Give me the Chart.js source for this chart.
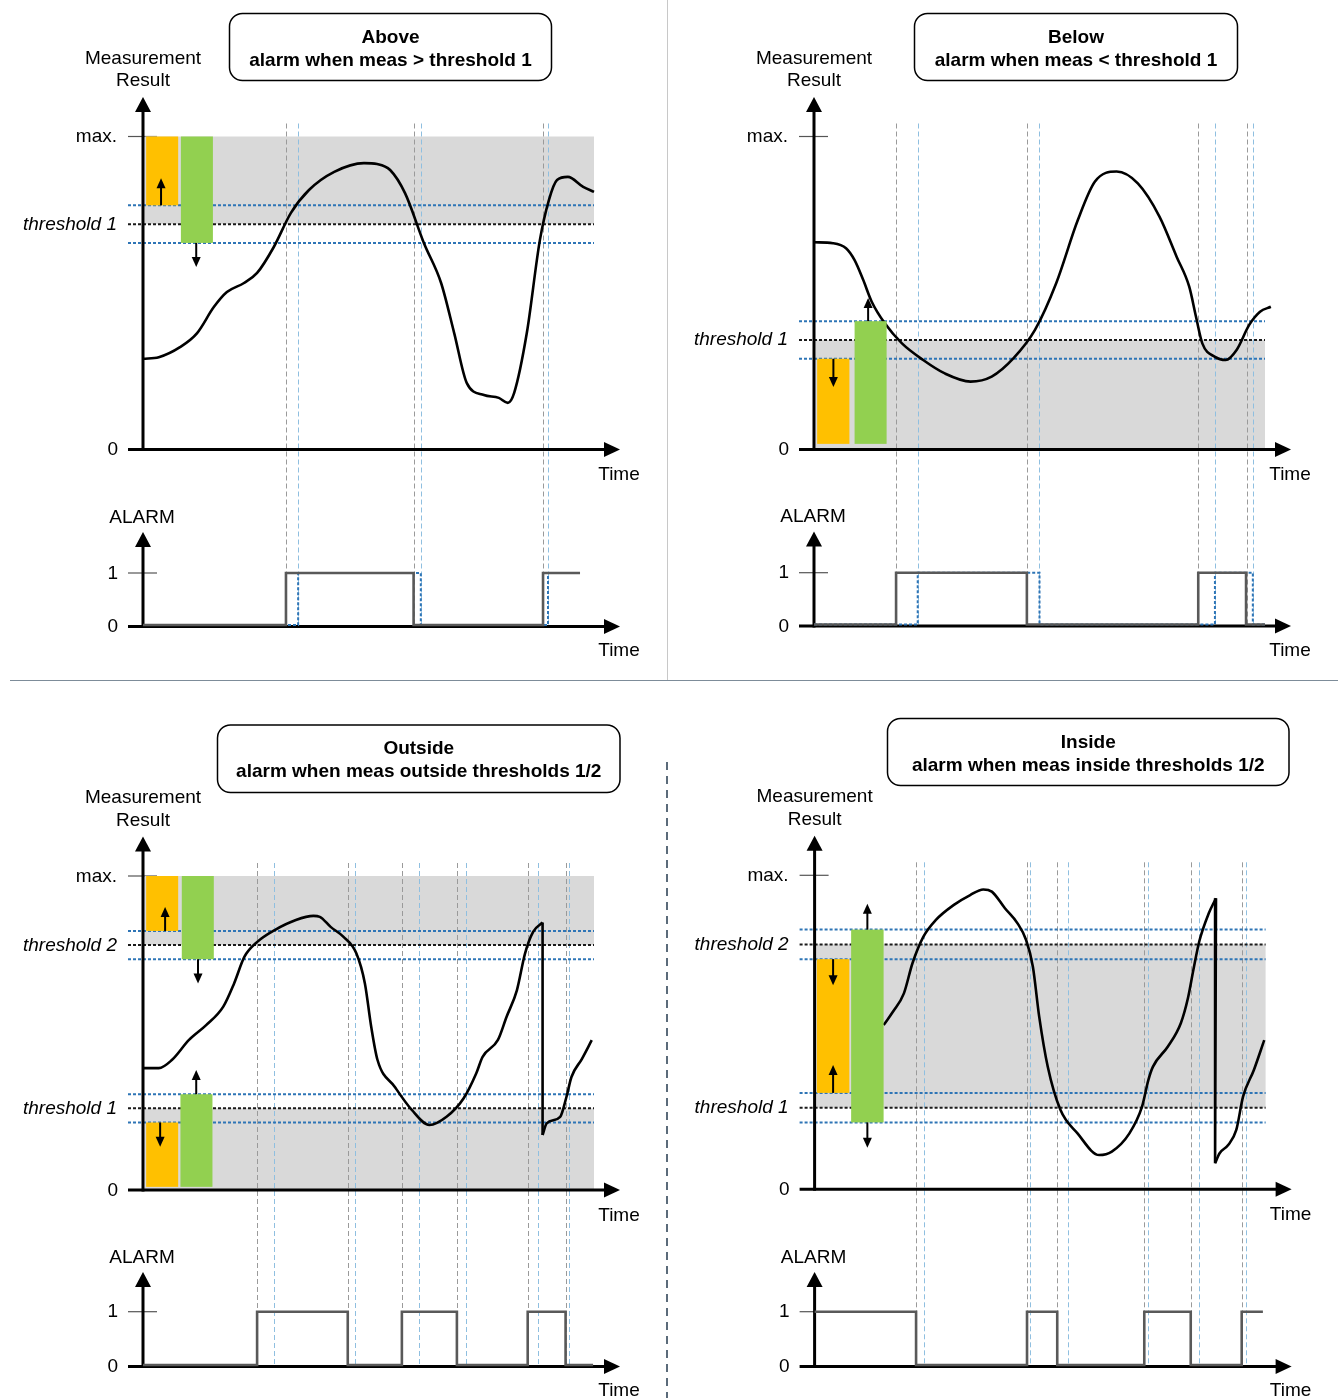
<!DOCTYPE html>
<html>
<head>
<meta charset="utf-8">
<script src="https://cdn.jsdelivr.net/npm/chart.js@4.4.1/dist/chart.umd.min.js"></script>
<style>
  html, body { margin: 0; padding: 0; background: #fff; }
  body { width: 1341px; height: 1400px; position: relative; overflow: hidden; }
  canvas { position: absolute; }
  #vTop { position: absolute; left: 667px; top: 0; width: 1px; height: 680px; background: #c8c8c8; }
  #hMid { position: absolute; left: 10px; top: 680px; width: 1328px; height: 1px; background: #7d8c99; }
  #vBot { position: absolute; left: 666px; top: 762px; width: 1.5px; height: 636px;
          background: repeating-linear-gradient(to bottom, #5b6b7a 0 8px, transparent 8px 14px); }
</style>
</head>
<body>
<div id="vTop"></div>
<div id="hMid"></div>
<div id="vBot"></div>
<canvas id="above" width="670" height="700" style="left:0;top:0"></canvas>
<canvas id="below" width="670" height="700" style="left:671px;top:0"></canvas>
<canvas id="outside" width="670" height="700" style="left:0;top:700px"></canvas>
<canvas id="inside" width="670" height="700" style="left:671px;top:700px"></canvas>
<script>
// tick labels
const measTickLabels = ["0", "max."];
const alarmTickLabels = ["0", "1"];

// ---- Above ----
const aboveTime = [0, 3.5, 8.2, 12, 15.7, 18.6, 22.4, 25.3, 29, 32.8, 36.8, 42.4, 49, 51.9, 54.8, 58.1, 62.3, 66.1, 69, 71.8, 75.6, 78.9, 80.9, 82.3, 85.1, 88, 90, 91.8, 94.2, 97.6, 100];
const aboveMeas = [29, 29.5, 32.7, 37.2, 45.5, 50.3, 53.2, 56.4, 64.7, 75.6, 82.9, 88.7, 91.5, 91.2, 89.3, 81.9, 65.9, 53.2, 37.2, 21.2, 17.4, 16.5, 14.9, 18.1, 37.2, 66.9, 79.7, 86.1, 87.1, 83.9, 82.3];
const aboveThresholds = [72];
const aboveHyst = 6;
const aboveBands = [[72, 100]];
const aboveAlarmTime = [0, 31.7, 60, 88.7, 96.9];
const aboveAlarm = [0, 1, 0, 1, 1];
const aboveDelayTime = [0, 34.4, 61.6, 89.8, 96.9];
const aboveDelay = [0, 1, 0, 1, 1];
const aboveGrayLines = [31.7, 60, 88.7];
const aboveBlueLines = [34.4, 61.6, 89.8];
const aboveOrange = [[0.7, 7.8, 78, 100]];
const aboveGreen = [[8.4, 15.5, 66, 100]];
const aboveArrows = [[4, 78, 86.7], [11.8, 66, 58.3]];

// ---- Below ----
const belowTime = [0, 4.2, 7.1, 9, 10.9, 12.8, 15.7, 19.5, 24.2, 29, 34.7, 39.4, 44.2, 49, 53.7, 58.5, 62.3, 67.1, 71.8, 76.6, 80.4, 83.2, 84.7, 86.1, 88.9, 91.3, 93.7, 96.5, 98.9, 101.3];
const belowMeas = [66.2, 65.9, 64.3, 60.5, 54.2, 47.2, 40.3, 33.9, 28.6, 24.3, 21.7, 23.3, 29.1, 38.2, 53.1, 73.3, 85.6, 88.8, 85, 74.4, 61.6, 52, 42.4, 33.9, 29.6, 28.6, 31.8, 39.8, 44, 45.6];
const belowThresholds = [35];
const belowHyst = 6;
const belowBands = [[0, 35]];
const belowAlarmTime = [0, 18.2, 47.2, 85.2, 95.8, 100];
const belowAlarm = [0, 1, 0, 1, 0, 0];
const belowDelayTime = [0, 23, 50, 88.9, 97.3, 100];
const belowDelay = [0, 1, 0, 1, 0, 0];
const belowGrayLines = [18.2, 47.2, 85.2, 96];
const belowBlueLines = [23, 50, 88.9, 97.3];
const belowOrange = [[0.7, 7.85, 1.8, 29]];
const belowGreen = [[9, 16.1, 1.8, 41]];
const belowArrows = [[4.3, 29, 20], [12, 41, 48.4]];

// ---- Outside ----
const outsideTime = [0, 3.5, 6.4, 10.2, 14, 17.8, 20.2, 22.5, 25.4, 29.2, 33.9, 37.8, 39.2, 41.6, 44.4, 47.3, 49.2, 50.6, 52, 55.8, 59.6, 63.5, 67.3, 71.1, 73.9, 75.3, 78.7, 80.6, 82.9, 84.7, 86.5, 88.6];
const outsideMeas = [38.8, 38.8, 41.4, 47.8, 52.5, 58.4, 65.8, 74.3, 79.1, 82.8, 86, 87.3, 87, 83.8, 80.7, 75.4, 65.8, 52, 41.4, 32.9, 25.5, 20.7, 23.3, 29.2, 37.2, 42.4, 47.8, 55.1, 63.6, 75.3, 82.2, 85.2];
const outsideDropTime = [88.6, 88.6];
const outsideDropMeas = [85.2, 17.5];
const outsideTailTime = [88.6, 89.5, 92.5, 93.9, 95, 97.3, 99.5];
const outsideTailMeas = [17.5, 21.2, 23.3, 29.7, 36, 41.7, 47.7];
const outsideThresholds = [26, 78];
const outsideHyst = 4.5;
const outsideBands = [[78, 100], [0, 26]];
const outsideAlarmTime = [0, 25.3, 45.4, 57.4, 69.6, 85.3, 93.7, 99.8];
const outsideAlarm = [0, 1, 0, 1, 0, 1, 0, 0];
const outsideGrayLines = [25.3, 45.4, 57.4, 69.6, 85.3, 93.7];
const outsideBlueLines = [29, 47, 61.2, 71.6, 87.5, 94.5];
const outsideOrange = [[0.7, 7.8, 82.5, 100], [0.7, 7.8, 1, 21.5]];
const outsideGreen = [[8.6, 15.7, 73.5, 100], [8.3, 15.4, 1, 30.5]];
const outsideArrows = [[4.9, 82.5, 90.1], [12.2, 73.5, 65.8], [3.8, 21.5, 13.8], [11.8, 30.5, 38.2]];

// ---- Inside ----
const insideTime = [15.3, 17.4, 19.8, 21.7, 24.1, 26.9, 30.8, 34.5, 37.4, 39.3, 42.2, 45, 46.9, 48.4, 49.8, 51.7, 54.5, 58.3, 63.1, 65.9, 69.8, 72.6, 74, 75, 78.3, 81.2, 82.8, 84, 85.3, 87.4, 89];
const insideMeas = [52.3, 56.6, 62.4, 72, 80.4, 85.8, 90.5, 93.7, 95.5, 94.8, 89.5, 84.7, 79.4, 70.9, 55, 39, 25.3, 17.8, 10.9, 12, 17.8, 26.3, 34.8, 39, 45.4, 52.9, 61, 70, 79, 87.9, 92.7];
const insideDropTime = [89, 88.8];
const insideDropMeas = [92.7, 8.3];
const insideTailTime = [88.8, 89.8, 91.7, 93.5, 95, 97.4, 99.7];
const insideTailMeas = [8.3, 11.5, 14.1, 18.9, 29.5, 38, 47.5];
const insideThresholds = [26, 78];
const insideHyst = 4.7;
const insideBands = [[26, 78]];
const insideAlarmTime = [0, 22.5, 47.1, 53.8, 73.1, 83.4, 94.7, 99.4];
const insideAlarm = [1, 0, 1, 0, 1, 0, 1, 1];
const insideGrayLines = [22.5, 47.1, 53.8, 73.1, 83.4, 94.7];
const insideBlueLines = [24.3, 47.8, 56.2, 74, 85.3, 95.7];
const insideOrange = [[0.5, 7.7, 30.7, 73.3]];
const insideGreen = [[8.1, 15.3, 21.3, 82.7]];
const insideArrows = [[4.1, 73.3, 65], [4.1, 30.7, 39.6], [11.7, 82.7, 90.9], [11.7, 21.3, 13.2]];

const FONT = '"Liberation Sans", Arial, Helvetica, sans-serif';
const W = 670, H = 700;
const PX_PER_T = 4.51;

function pts(xs, ys) {
  return xs.map((x, i) => ({ x: x, y: ys[i] }));
}

function head(ctx, x, y, dir, w, len) {
  ctx.beginPath();
  ctx.moveTo(x, y);
  if (dir === "up") { ctx.lineTo(x - w / 2, y + len); ctx.lineTo(x + w / 2, y + len); }
  else if (dir === "down") { ctx.lineTo(x - w / 2, y - len); ctx.lineTo(x + w / 2, y - len); }
  else { ctx.lineTo(x - len, y - w / 2); ctx.lineTo(x - len, y + w / 2); }
  ctx.closePath();
  ctx.fill();
}

function hline(ctx, x0, x1, y, color, width, dash) {
  ctx.strokeStyle = color; ctx.lineWidth = width; ctx.setLineDash(dash || []);
  ctx.beginPath(); ctx.moveTo(x0, y); ctx.lineTo(x1, y); ctx.stroke();
}

function vline(ctx, x, y0, y1, color, width, dash) {
  ctx.strokeStyle = color; ctx.lineWidth = width; ctx.setLineDash(dash || []);
  ctx.beginPath(); ctx.moveTo(x, y0); ctx.lineTo(x, y1); ctx.stroke();
}

function axes(ctx, ox, oy, tipY, leftX, tipX) {
  ctx.fillStyle = "#000";
  vline(ctx, ox, oy + 1.5, tipY + 12, "#000", 3);
  head(ctx, ox, tipY, "up", 16, 15);
  hline(ctx, leftX, tipX - 12, oy, "#000", 3);
  head(ctx, tipX, oy, "right", 15, 16);
}

function label(ctx, s, x, y, align, style) {
  ctx.font = (style || "") + " 19px " + FONT;
  ctx.textAlign = align;
  ctx.textBaseline = "alphabetic";
  ctx.fillStyle = "#000";
  ctx.fillText(s, x, y);
}

function diagram(p) {
  return {
    id: "diagram_" + p.id,
    beforeDatasetsDraw(chart) {
      const ctx = chart.ctx;
      const x = chart.scales.x, y = chart.scales.y, a = chart.scales.y2;
      const x0 = x.getPixelForValue(0), xEnd = x.getPixelForValue(100);
      ctx.save();
      // ticks at max. and alarm 1
      hline(ctx, x0 - 15, x0 + 14, y.getPixelForValue(100), "#555", 1.2);
      hline(ctx, x0 - 15, x0 + 14, a.getPixelForValue(1), "#555", 1.2);
      // shaded alarm zones
      ctx.fillStyle = "#d9d9d9";
      p.bands.forEach(b => {
        const t = y.getPixelForValue(b[1]), bt = y.getPixelForValue(b[0]);
        ctx.fillRect(x0 + 1.5, t, xEnd - x0 - 1.5, bt - t);
      });
      // switching instants
      const vTop = y.getPixelForValue(100) - 13, vBot = a.getPixelForValue(0);
      p.grayLines.forEach(t => vline(ctx, Math.round(x.getPixelForValue(t)) + 0.5, vTop, vBot, "#9a9a9a", 1, [5, 3]));
      p.blueLines.forEach(t => vline(ctx, Math.round(x.getPixelForValue(t)) + 0.5, vTop, vBot, "#8fbfe0", 1, [5, 3]));
      // thresholds and hysteresis
      p.thresholds.forEach(v => {
        hline(ctx, x0 - 15, xEnd, y.getPixelForValue(v + p.hyst), "#2e75b6", 2, [3, 2]);
        hline(ctx, x0 - 15, xEnd, y.getPixelForValue(v), "#1a1a1a", 2, [3, 2]);
        hline(ctx, x0 - 15, xEnd, y.getPixelForValue(v - p.hyst), "#2e75b6", 2, [3, 2]);
      });
      ctx.setLineDash([]);
      axes(ctx, x0, y.getPixelForValue(0), y.getPixelForValue(100) - 39.5, x0 - 15, xEnd + 26);
      axes(ctx, x0, a.getPixelForValue(0) + 1.5, a.getPixelForValue(0) - 93, x0 - 15, xEnd + 26);
      ctx.restore();
    },
    afterDatasetsDraw(chart) {
      const ctx = chart.ctx;
      const x = chart.scales.x, y = chart.scales.y;
      ctx.save();
      const bar = (b, color) => {
        const l = x.getPixelForValue(b[0]), r = x.getPixelForValue(b[1]);
        const t = y.getPixelForValue(b[3]), bt = y.getPixelForValue(b[2]);
        ctx.fillStyle = color;
        ctx.fillRect(l, t, r - l, bt - t);
      };
      p.orange.forEach(b => bar(b, "#ffc000"));
      p.green.forEach(b => bar(b, "#92d050"));
      ctx.fillStyle = "#000";
      p.arrows.forEach(ar => {
        const ax = x.getPixelForValue(ar[0]);
        const from = y.getPixelForValue(ar[1]), to = y.getPixelForValue(ar[2]);
        const up = ar[2] > ar[1];
        vline(ctx, ax, from, up ? to + 7 : to - 7, "#000", 2);
        head(ctx, ax, to, up ? "up" : "down", 9, 10);
      });
      ctx.restore();
    },
    afterDraw(chart) {
      const ctx = chart.ctx;
      const x = chart.scales.x, y = chart.scales.y, a = chart.scales.y2;
      const x0 = x.getPixelForValue(0), xEnd = x.getPixelForValue(100);
      const yMax = y.getPixelForValue(100), yZero = y.getPixelForValue(0);
      const aZero = a.getPixelForValue(0);
      ctx.save();
      // title box
      const b = p.box, r = 13;
      ctx.setLineDash([]);
      ctx.strokeStyle = "#000"; ctx.lineWidth = 1.5; ctx.fillStyle = "#fff";
      ctx.beginPath();
      ctx.moveTo(b[0] + r, b[1]);
      ctx.arcTo(b[2], b[1], b[2], b[3], r);
      ctx.arcTo(b[2], b[3], b[0], b[3], r);
      ctx.arcTo(b[0], b[3], b[0], b[1], r);
      ctx.arcTo(b[0], b[1], b[2], b[1], r);
      ctx.closePath(); ctx.fill(); ctx.stroke();
      const cx = (b[0] + b[2]) / 2;
      label(ctx, p.title[0], cx, b[1] + 29, "center", "bold");
      label(ctx, p.title[1], cx, b[1] + 52, "center", "bold");
      // measurement axis texts
      label(ctx, "Measurement", x0, yMax - 73, "center");
      label(ctx, "Result", x0, yMax - 50.5, "center");
      label(ctx, measTickLabels[1], x0 - 26, yMax + 5.5, "right");
      label(ctx, measTickLabels[0], x0 - 25, yZero + 5.5, "right");
      p.thresholds.forEach((v, i) => label(ctx, "threshold " + (i + 1), x0 - 26, y.getPixelForValue(v) + 5.5, "right", "italic"));
      label(ctx, "Time", xEnd + 25, yZero + 30.5, "center");
      // alarm axis texts
      label(ctx, "ALARM", x0 - 1, aZero - 102.5, "center");
      label(ctx, alarmTickLabels[1], x0 - 25, a.getPixelForValue(1) + 5.5, "right");
      label(ctx, alarmTickLabels[0], x0 - 25, aZero + 7, "right");
      label(ctx, "Time", xEnd + 25, aZero + 31, "center");
      ctx.restore();
    }
  };
}

function panel(p) {
  const ky = (p.zeroY - p.maxY) / 100;
  const yTop = p.zeroY / ky;
  const ka = p.alarm0Y - p.alarm1Y;
  const aTop = p.alarm0Y / ka;
  const xMin = -p.axisX / PX_PER_T;

  const curve = { borderColor: "#000", borderWidth: 2.6, pointRadius: 0, cubicInterpolationMode: "monotone", yAxisID: "y", order: 0 };
  const datasets = p.curves.map(c => Object.assign({ data: pts(c[0], c[1]) }, curve));
  if (p.drop) {
    datasets.push({ data: pts(p.drop[0], p.drop[1]), borderColor: "#000", borderWidth: 2.6, pointRadius: 0, tension: 0, yAxisID: "y", order: 0 });
  }
  datasets.push({ data: pts(p.alarm[0], p.alarm[1]), borderColor: "#595959", borderWidth: 2.6, pointRadius: 0, stepped: "before", yAxisID: "y2", order: 1 });
  if (p.delay) {
    datasets.push({ data: pts(p.delay[0], p.delay[1]), borderColor: "#2e75b6", borderWidth: 2, borderDash: [3, 2], pointRadius: 0, stepped: "before", yAxisID: "y2", order: 2 });
  }

  new Chart(document.getElementById(p.id), {
    type: "line",
    data: { datasets: datasets },
    options: {
      responsive: false,
      animation: false,
      events: [],
      layout: { padding: 0 },
      plugins: { legend: { display: false }, tooltip: { enabled: false } },
      scales: {
        x: { type: "linear", display: false, min: xMin, max: xMin + W / PX_PER_T },
        y: { type: "linear", display: false, min: yTop - H / ky, max: yTop },
        y2: { type: "linear", axis: "y", display: false, min: aTop - H / ka, max: aTop }
      }
    },
    plugins: [diagram(p)]
  });
}

panel({
  id: "above", axisX: 143, maxY: 136.5, zeroY: 449.5, alarm1Y: 573, alarm0Y: 625,
  box: [229.5, 13.5, 551.5, 80.5], title: ["Above", "alarm when meas > threshold 1"],
  curves: [[aboveTime, aboveMeas]],
  alarm: [aboveAlarmTime, aboveAlarm], delay: [aboveDelayTime, aboveDelay],
  thresholds: aboveThresholds, hyst: aboveHyst, bands: aboveBands,
  grayLines: aboveGrayLines, blueLines: aboveBlueLines,
  orange: aboveOrange, green: aboveGreen, arrows: aboveArrows
});

panel({
  id: "below", axisX: 143, maxY: 136.5, zeroY: 449.5, alarm1Y: 572.7, alarm0Y: 624.5,
  box: [243.5, 13.5, 566.5, 80.5], title: ["Below", "alarm when meas < threshold 1"],
  curves: [[belowTime, belowMeas]],
  alarm: [belowAlarmTime, belowAlarm], delay: [belowDelayTime, belowDelay],
  thresholds: belowThresholds, hyst: belowHyst, bands: belowBands,
  grayLines: belowGrayLines, blueLines: belowBlueLines,
  orange: belowOrange, green: belowGreen, arrows: belowArrows
});

panel({
  id: "outside", axisX: 143, maxY: 176, zeroY: 490, alarm1Y: 611.7, alarm0Y: 665,
  box: [217.5, 25, 620, 92.5], title: ["Outside", "alarm when meas outside thresholds 1/2"],
  curves: [[outsideTime, outsideMeas], [outsideTailTime, outsideTailMeas]],
  drop: [outsideDropTime, outsideDropMeas],
  alarm: [outsideAlarmTime, outsideAlarm],
  thresholds: outsideThresholds, hyst: outsideHyst, bands: outsideBands,
  grayLines: outsideGrayLines, blueLines: outsideBlueLines,
  orange: outsideOrange, green: outsideGreen, arrows: outsideArrows
});

panel({
  id: "inside", axisX: 143.6, maxY: 175.3, zeroY: 489.3, alarm1Y: 611.7, alarm0Y: 665,
  box: [216.5, 18.5, 618, 85.5], title: ["Inside", "alarm when meas inside thresholds 1/2"],
  curves: [[insideTime, insideMeas], [insideTailTime, insideTailMeas]],
  drop: [insideDropTime, insideDropMeas],
  alarm: [insideAlarmTime, insideAlarm],
  thresholds: insideThresholds, hyst: insideHyst, bands: insideBands,
  grayLines: insideGrayLines, blueLines: insideBlueLines,
  orange: insideOrange, green: insideGreen, arrows: insideArrows
});
</script>
</body>
</html>
